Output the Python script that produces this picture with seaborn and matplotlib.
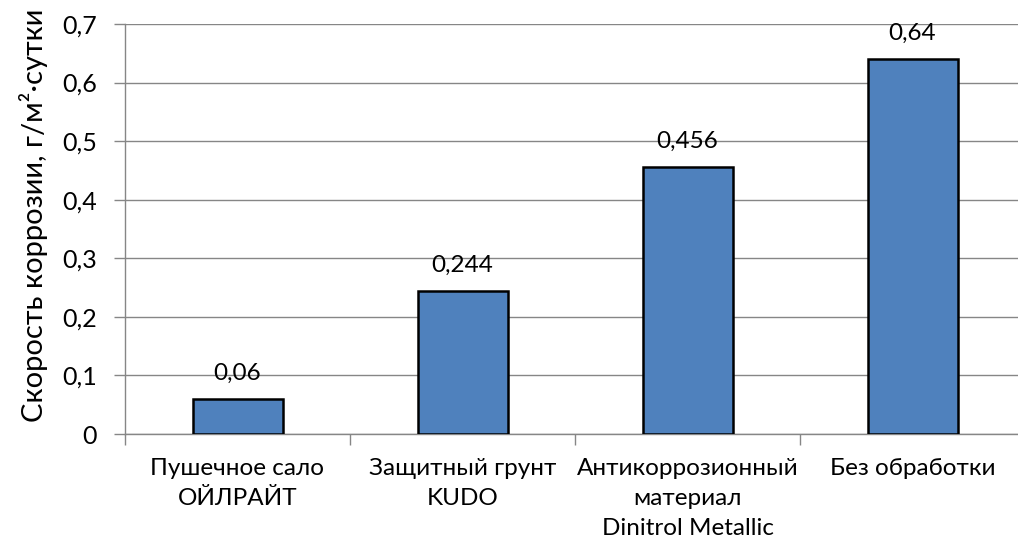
import matplotlib
matplotlib.use("Agg")
import matplotlib.pyplot as plt
import seaborn as sns
import pandas as pd
import numpy as np

categories = ["Пушечное сало\nОЙЛРАЙТ", "Защитный грунт\nKUDO",
              "Антикоррозионный\nматериал\nDinitrol Metallic", "Без обработки"]
values = [0.06, 0.244, 0.456, 0.64]
value_labels = ["0,06", "0,244", "0,456", "0,64"]
yticks = [0, 0.1, 0.2, 0.3, 0.4, 0.5, 0.6, 0.7]
ytick_labels = ["0", "0,1", "0,2", "0,3", "0,4", "0,5", "0,6", "0,7"]

sns.set_theme(style="white")
plt.rcParams['font.family'] = ['Lato', 'DejaVu Sans']

df = pd.DataFrame({"cat": categories, "val": values})

fig = plt.figure(figsize=(10.18, 5.42), dpi=100)
ax = fig.add_axes([125/1018, 108/542, 900/1018, 410/542])
sns.barplot(data=df, x="cat", y="val", color="#4F81BD", saturation=1,
            width=0.4, edgecolor="black", linewidth=1.8, ax=ax, zorder=3)

ax.set_xlim(-0.5, 3.5)
ax.set_ylim(0, 0.7)
ax.set_yticks(yticks)
ax.set_yticklabels(ytick_labels, fontsize=18, color="black")
ax.yaxis.grid(True, color="#868686", linewidth=1)
ax.set_axisbelow(True)
ax.tick_params(axis="y", length=8, width=1, color="#868686", direction="out", left=True, pad=12)

# x tick labels at category centers, tick marks at boundaries
ax.set_xticks(range(len(categories)))
ax.set_xticklabels(categories, fontsize=17.5, color="black", linespacing=1.55)
ax.tick_params(axis="x", length=0, pad=17)
ax.set_xticks(np.arange(-0.5, len(categories) + 0.5, 1), minor=True)
ax.tick_params(axis="x", which="minor", length=8, width=1, color="#868686", direction="out", bottom=True)

for s in ["top", "right"]:
    ax.spines[s].set_visible(False)
for s in ["left", "bottom"]:
    ax.spines[s].set_color("#868686")
    ax.spines[s].set_linewidth(1)

for i, (v, lab) in enumerate(zip(values, value_labels)):
    ax.annotate(lab, (i, v), xytext=(0, 11), textcoords="offset points",
                ha="center", va="bottom", fontsize=17.5, color="black")

ax.set_xlabel("")
ax.set_ylabel("Скорость коррозии, г/м²·сутки", fontsize=21, color="black")
ax.yaxis.set_label_coords(-0.085, 0.534)

fig.savefig("out.png", dpi=100)
